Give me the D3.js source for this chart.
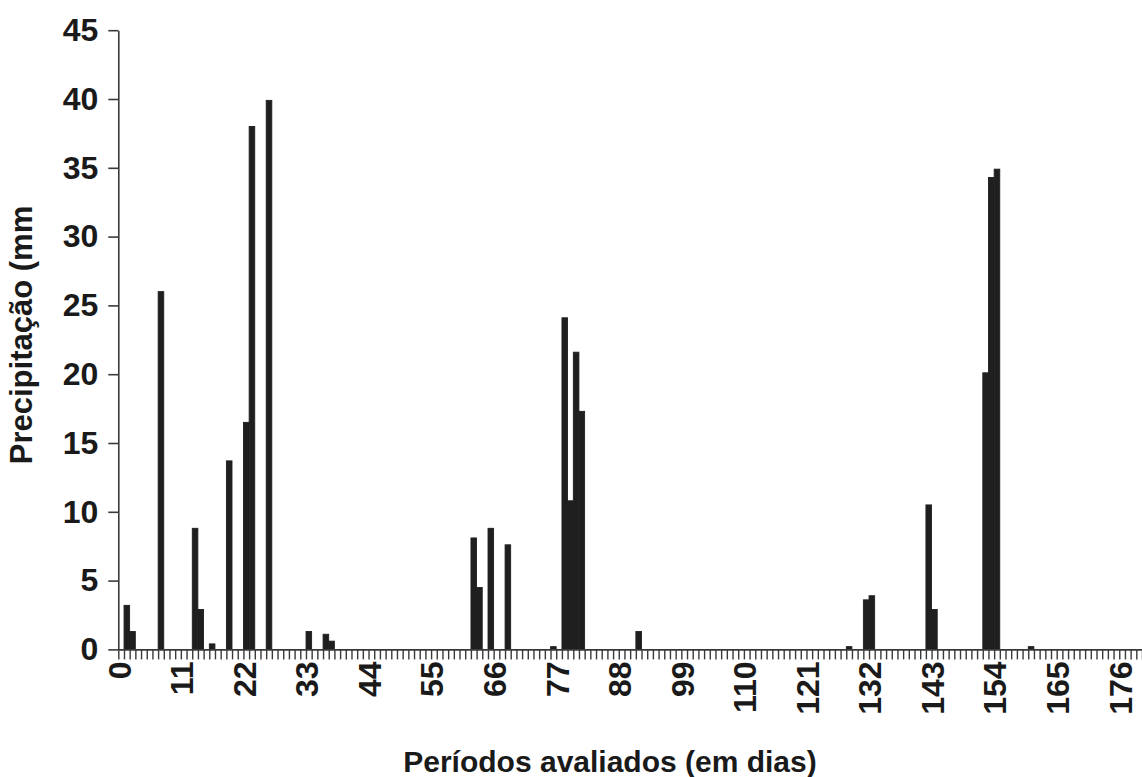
<!DOCTYPE html>
<html>
<head>
<meta charset="utf-8">
<script src="https://cdn.jsdelivr.net/npm/d3@7/dist/d3.min.js"></script>
<style>
  html, body { margin: 0; padding: 0; background: #ffffff; }
  svg { display: block; }
  text { font-family: "Liberation Sans", Arial, sans-serif; font-weight: bold; fill: #1a1a1a; }
</style>
</head>
<body>
<svg id="chart" width="1142" height="777"></svg>
<script>
// ---- data (daily precipitation, mm) ----
const days = [
  0,1,2,3,4,5,6,7,8,9,10,11,12,13,14,15,16,17,18,19,
  20,21,22,23,24,25,26,27,28,29,30,31,32,33,34,35,36,37,38,39,
  40,41,42,43,44,45,46,47,48,49,50,51,52,53,54,55,56,57,58,59,
  60,61,62,63,64,65,66,67,68,69,70,71,72,73,74,75,76,77,78,79,
  80,81,82,83,84,85,86,87,88,89,90,91,92,93,94,95,96,97,98,99,
  100,101,102,103,104,105,106,107,108,109,110,111,112,113,114,115,116,117,118,119,
  120,121,122,123,124,125,126,127,128,129,130,131,132,133,134,135,136,137,138,139,
  140,141,142,143,144,145,146,147,148,149,150,151,152,153,154,155,156,157,158,159,
  160,161,162,163,164,165,166,167,168,169,170,171,172,173,174,175,176,177,178,179
];
const precipitation = [
  0, 3.2, 1.3, 0, 0, 0, 0, 26.0, 0, 0,
  0, 0, 0, 8.8, 2.9, 0, 0.4, 0, 0, 13.7,
  0, 0, 16.5, 38.0, 0, 0, 39.9, 0, 0, 0,
  0, 0, 0, 1.3, 0, 0, 1.1, 0.6, 0, 0,
  0, 0, 0, 0, 0, 0, 0, 0, 0, 0,
  0, 0, 0, 0, 0, 0, 0, 0, 0, 0,
  0, 0, 8.1, 4.5, 0, 8.8, 0, 0, 7.6, 0,
  0, 0, 0, 0, 0, 0, 0.2, 0, 24.1, 10.8,
  21.6, 17.3, 0, 0, 0, 0, 0, 0, 0, 0,
  0, 1.3, 0, 0, 0, 0, 0, 0, 0, 0,
  0, 0, 0, 0, 0, 0, 0, 0, 0, 0,
  0, 0, 0, 0, 0, 0, 0, 0, 0, 0,
  0, 0, 0, 0, 0, 0, 0, 0, 0.2, 0,
  0, 3.6, 3.9, 0, 0, 0, 0, 0, 0, 0,
  0, 0, 10.5, 2.9, 0, 0, 0, 0, 0, 0,
  0, 0, 20.1, 34.3, 34.9, 0, 0, 0, 0, 0,
  0.2, 0, 0, 0, 0, 0, 0, 0, 0, 0,
  0, 0, 0, 0, 0, 0, 0, 0, 0, 0
];
const xTickLabels = [0, 11, 22, 33, 44, 55, 66, 77, 88, 99, 110, 121, 132, 143, 154, 165, 176];
const yTickValues = [0, 5, 10, 15, 20, 25, 30, 35, 40, 45];
const xTitle = "Períodos avaliados (em dias)";
const yTitle = "Precipitação (mm";

// ---- layout ----
const svg = d3.select("#chart");
const plotLeft = 118.3, plotRight = 1142.0, plotTop = 30.2, plotBottom = 649.4;
const fontSize = 32;

const x = d3.scaleBand().domain(days).range([plotLeft, plotRight]).paddingInner(0.02).paddingOuter(0.01);
const xEdges = d3.scaleLinear().domain([0, days.length]).range([plotLeft, plotRight]);
const y = d3.scaleLinear().domain([0, 45]).range([plotBottom, plotTop]);

svg.append("rect").attr("width", 1142).attr("height", 777).attr("fill", "#ffffff");

// bars
svg.append("g").selectAll("rect")
  .data(days.map((d, i) => ({ day: d, v: precipitation[i] })).filter(d => d.v > 0))
  .join("rect")
  .attr("x", d => x(d.day))
  .attr("width", x.bandwidth())
  .attr("y", d => y(d.v))
  .attr("height", d => y(0) - y(d.v))
  .attr("fill", "#1f1f1f")
  .attr("stroke", "#1f1f1f")
  .attr("stroke-width", 0.9);

// y axis
const yAxis = svg.append("g")
  .attr("transform", `translate(${plotLeft},0)`)
  .call(d3.axisLeft(y).tickValues(yTickValues).tickSize(10).tickSizeOuter(0).tickPadding(10));
yAxis.select(".domain").attr("stroke", "#3a3a3a").attr("stroke-width", 1.6);
yAxis.selectAll(".tick line").attr("stroke", "#3a3a3a").attr("stroke-width", 1.6);
yAxis.selectAll(".tick text")
  .style("font-size", fontSize + "px")
  .style("font-family", "'Liberation Sans', Arial, sans-serif")
  .style("font-weight", "bold")
  .attr("fill", "#1a1a1a");

// x axis: minor ticks at every category boundary
const xAxis = svg.append("g")
  .attr("transform", `translate(0,${plotBottom})`)
  .call(d3.axisBottom(xEdges).tickValues(d3.range(0, days.length + 1)).tickSize(10).tickSizeOuter(0).tickFormat(""));
xAxis.select(".domain").attr("stroke", "#3a3a3a").attr("stroke-width", 1.6);
xAxis.selectAll(".tick line").attr("stroke", "#3a3a3a").attr("stroke-width", 1.4);

// x tick labels (rotated)
const capShift = fontSize * 0.716 / 2;
svg.append("g").selectAll("text")
  .data(xTickLabels)
  .join("text")
  .attr("transform", d => `translate(${x(d) + x.bandwidth() / 2 - 2 + capShift},${plotBottom + 12}) rotate(-90)`)
  .attr("text-anchor", "end")
  .style("font-size", fontSize + "px")
  .text(d => d);

// axis titles
svg.append("text")
  .attr("x", 610).attr("y", 772)
  .attr("text-anchor", "middle")
  .style("font-size", "30px")
  .text(xTitle);

svg.append("text")
  .attr("transform", `translate(32,335) rotate(-90)`)
  .attr("text-anchor", "middle")
  .style("font-size", "31px")
  .text(yTitle);
</script>
</body>
</html>
